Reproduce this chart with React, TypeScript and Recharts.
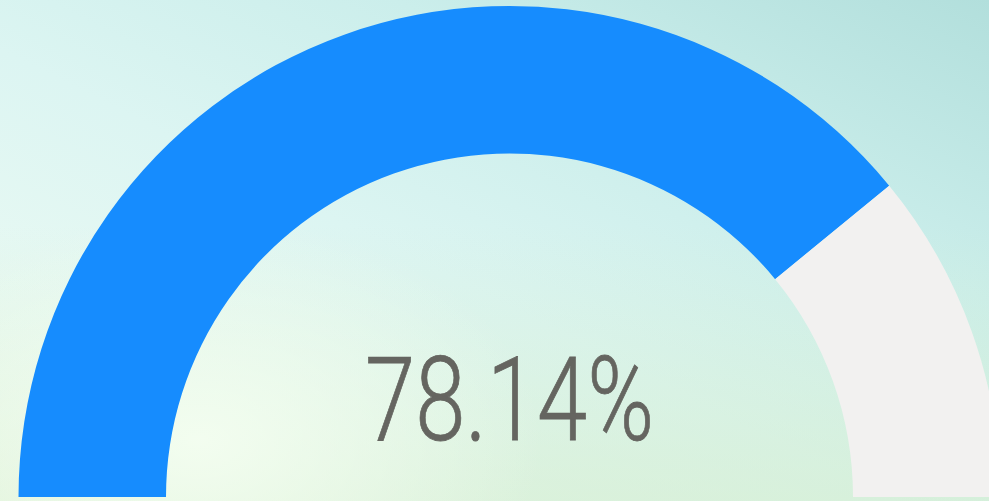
import React from 'react';
import { PieChart, Pie, Cell, Label } from 'recharts';

const segmentNames = ['value', 'rest'];
const segmentValues = [78.14, 21.86];
const segmentColors = ['#168cfe', '#f2f1f0'];
const centerLabel = '78.14%';

const data = segmentNames.map((name, i) => ({ name, value: segmentValues[i] }));

const background = [
  'radial-gradient(ellipse 35% 45% at 20% 88%, rgba(246,255,242,0.85) 0%, rgba(246,255,242,0) 100%)',
  'linear-gradient(to bottom, rgba(210,236,200,0) 45%, rgba(210,236,200,0.55) 100%)',
  'linear-gradient(to bottom left, #b2dfdc 0%, #cbeeeb 30%, #dcf5f2 55%, #e8f9f3 80%, #f0fbf0 100%)',
].join(', ');

export default function App() {
  return (
    <div style={{ position: 'absolute', left: 0, top: 0, width: 989, height: 501, background, overflow: 'hidden' }}>
      <PieChart width={989} height={501} margin={{ top: 0, right: 0, bottom: 0, left: 0 }}>
        <Pie
          data={data}
          dataKey="value"
          nameKey="name"
          cx={509.5}
          cy={497}
          innerRadius={343.5}
          outerRadius={491}
          startAngle={180}
          endAngle={0}
          stroke="none"
          isAnimationActive={false}
        >
          {data.map((d, i) => (
            <Cell key={d.name} fill={segmentColors[i]} />
          ))}
          <Label
            position="center"
            content={(props: any) => {
              const vb = props.viewBox || {};
              const cx = vb.cx ?? 509.5;
              const cy = vb.cy ?? 497;
              return (
                <text
                  x={cx}
                  y={cy - 57}
                  textAnchor="middle"
                  fill="#656560"
                  fontFamily="Roboto, sans-serif"
                  fontWeight={300}
                  fontSize={116}
                  textLength={289}
                  lengthAdjust="spacingAndGlyphs"
                  stroke="#656560"
                  strokeWidth={0.8}
                >
                  {centerLabel}
                </text>
              );
            }}
          />
        </Pie>
      </PieChart>
    </div>
  );
}
